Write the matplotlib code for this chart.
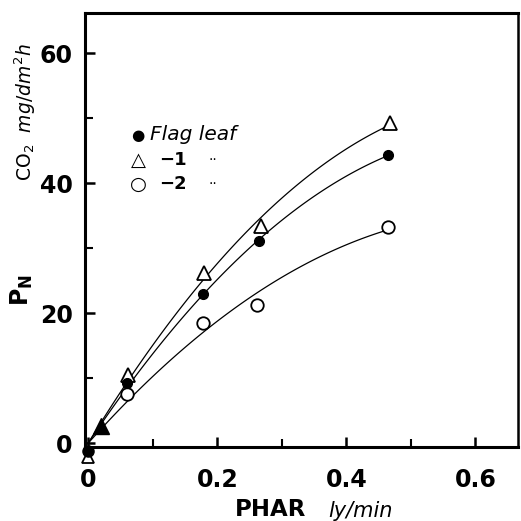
import numpy as np
import matplotlib
matplotlib.use("Agg")
import matplotlib.pyplot as plt

# Data (PHAR ly/min, PN CO2 mg/dm2 h)
flag_x = [0.0, 0.02, 0.06, 0.178, 0.265, 0.464]
flag_y = [-1.2, 2.5, 9.2, 22.9, 31.1, 44.3]
l1_x = [0.0, 0.02, 0.062, 0.179, 0.267, 0.467]
l1_y = [-2.2, 2.6, 10.5, 26.2, 33.4, 49.2]
l2_x = [0.0, 0.02, 0.06, 0.178, 0.262, 0.464]
l2_y = [-1.2, 2.4, 7.5, 18.5, 21.2, 33.2]

xticks = [0, 0.2, 0.4, 0.6]
xticklabels = ["0", "0.2", "0.4", "0.6"]
yticks = [0, 20, 40, 60]
yticklabels = ["0", "20", "40", "60"]

fig = plt.figure(figsize=(5.21, 5.21), dpi=100)
ax = fig.add_axes([85/521, 74/521, 433/521, 434/521])
ax.set_xlim(-0.005, 0.666)
ax.set_ylim(-0.6, 66.2)

def fit_curve(xs, ys, xend):
    x = np.array(xs[1:]); y = np.array(ys[1:])
    A = np.vstack([x, x**2]).T
    coef, *_ = np.linalg.lstsq(A, y, rcond=None)
    xx = np.linspace(0, xend, 100)
    return xx, coef[0]*xx + coef[1]*xx**2

for xs, ys, xe in [(flag_x, flag_y, 0.468), (l1_x, l1_y, 0.462), (l2_x, l2_y, 0.472)]:
    xx, yy = fit_curve(xs, ys, xe)
    ax.plot(xx, yy, color="black", lw=0.9, clip_on=False)

ms = 9
ax.plot(l1_x[2:], l1_y[2:], "^", mfc="white", mec="black", mew=1.3, ms=ms+1, clip_on=False, zorder=4)
ax.plot(l2_x[2:], l2_y[2:], "o", mfc="white", mec="black", mew=1.3, ms=ms, clip_on=False, zorder=4)
ax.plot(flag_x[2:], flag_y[2:], "o", color="black", ms=7, clip_on=False, zorder=5)
ax.plot([l1_x[1]], [l1_y[1]], "^", color="black", ms=12, clip_on=False, zorder=6)
ax.plot([l1_x[0]], [l1_y[0]], "^", mfc="white", mec="black", mew=1.3, ms=ms-1, clip_on=False, zorder=3)
ax.plot([l2_x[0]], [l2_y[0]], "o", color="black", ms=ms-1, clip_on=False, zorder=4)

for s in ["left", "bottom", "top"]:
    ax.spines[s].set_linewidth(2.2)
ax.spines["right"].set_linewidth(1.8)

ax.set_xticks(xticks)
ax.set_xticklabels(xticklabels, fontsize=17, fontweight="bold")
ax.set_yticks(yticks)
ax.set_yticklabels(yticklabels, fontsize=17, fontweight="bold")
ax.set_xticks([0.1, 0.3, 0.5], minor=True)
ax.set_yticks([10, 30, 50], minor=True)
ax.tick_params(which="major", direction="in", length=7, width=1.8)
ax.tick_params(which="minor", direction="in", length=6, width=1.5)
ax.tick_params(axis="x", which="major", pad=15)
ax.tick_params(axis="y", which="major", pad=9)

# Legend drawn as text
lx = 138/521
fig.text(lx, 1 - 135/521, "\u25CF", fontsize=11, ha="center", va="center")
fig.text(150/521, 1 - 135/521, "Flag leaf", fontsize=14.5, style="italic", ha="left", va="center")
fig.text(lx, 1 - 160/521, "\u25B3", fontsize=14, ha="center", va="center")
fig.text(159/521, 1 - 160/521, "\u22121", fontsize=13, fontweight="bold", ha="left", va="center")
fig.text(lx, 1 - 184/521, "\u25CB", fontsize=14, ha="center", va="center")
fig.text(159/521, 1 - 184/521, "\u22122", fontsize=13, fontweight="bold", ha="left", va="center")
fig.text(208/521, 1 - 160/521, "··", fontsize=10, ha="left", va="center")
fig.text(208/521, 1 - 184/521, "··", fontsize=10, ha="left", va="center")

# Axis labels
fig.text(22/521, 1 - 290/521, r"$\mathbf{P}_{\mathbf{N}}$", fontsize=17, rotation=90, ha="center", va="center")
fig.text(25/521, 1 - 112/521, r"CO$_2$  $\it{mg/dm^2h}$", fontsize=13.5, rotation=90, ha="center", va="center")
fig.text(271/521, 1 - 510/521, "PHAR", fontsize=16.5, fontweight="bold", ha="center", va="center")
fig.text(361/521, 1 - 511/521, "ly/min", fontsize=15, style="italic", ha="center", va="center")

fig.savefig("out.png", dpi=100)
